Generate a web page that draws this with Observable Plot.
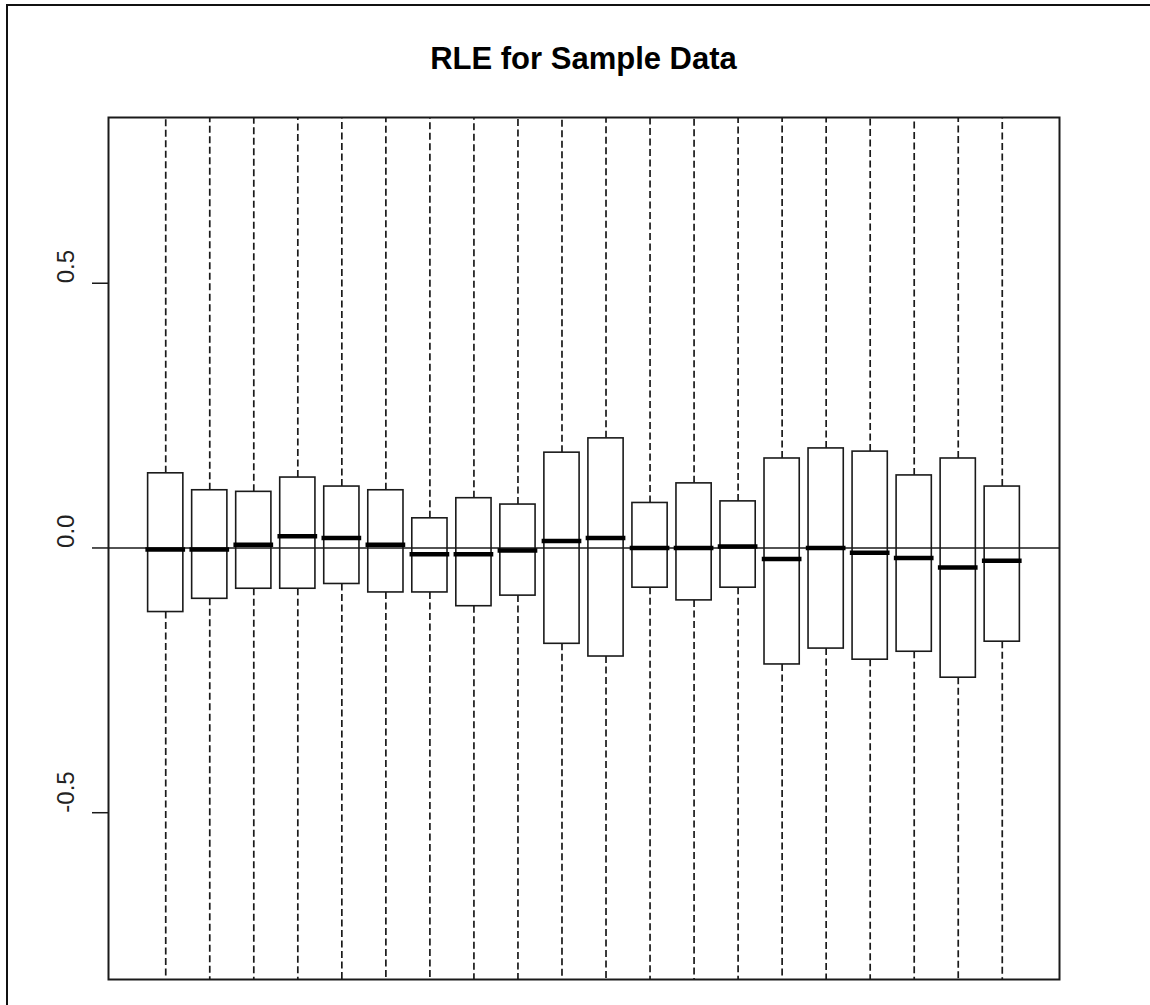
<!DOCTYPE html>
<html>
<head>
<meta charset="utf-8">
<script src="https://cdn.jsdelivr.net/npm/d3@7"></script>
<script src="https://cdn.jsdelivr.net/npm/@observablehq/plot@0.6"></script>
<style>
  html, body { margin: 0; padding: 0; background: #fff; }
  #page { position: relative; width: 1150px; height: 1005px; overflow: hidden; background: #fff; }
  #edge { position: absolute; left: 6px; top: 4px; width: 1150px; height: 1010px;
          border-left: 2px solid #111; border-top: 2px solid #111; pointer-events: none; }
  #title { box-sizing: border-box; height: 100px; padding-top: 44px; text-align: center;
           padding-left: 17px;
           font-family: "Liberation Sans", Arial, sans-serif; font-weight: bold;
           font-size: 31px; line-height: 30px; color: #000; }
  #chart svg { display: block; }
</style>
</head>
<body>
<div id="page">
  <div id="title">RLE for Sample Data</div>
  <div id="chart"></div>
  <div id="edge"></div>
</div>
<script>
// Sample positions (1..20), no sample names shown on the axis
const samplePos = [1, 2, 3, 4, 5, 6, 7, 8, 9, 10, 11, 12, 13, 14, 15, 16, 17, 18, 19, 20];
// Upper hinge (Q3) of each RLE box
const upperHinge = [0.141, 0.109, 0.106, 0.133, 0.116, 0.109, 0.056, 0.094, 0.082, 0.180,
                    0.207, 0.085, 0.122, 0.088, 0.169, 0.188, 0.182, 0.137, 0.169, 0.116];
// Lower hinge (Q1)
const lowerHinge = [-0.121, -0.096, -0.077, -0.077, -0.068, -0.084, -0.084, -0.110, -0.090, -0.181,
                    -0.205, -0.075, -0.099, -0.075, -0.220, -0.190, -0.211, -0.196, -0.245, -0.177];
// Medians
const medians = [-0.003, -0.003, 0.006, 0.022, 0.019, 0.006, -0.012, -0.012, -0.005, 0.013,
                 0.019, 0.000, 0.000, 0.003, -0.021, 0.000, -0.009, -0.019, -0.037, -0.024];
// Whisker ends run past the visible range (clipped by the plot region)
const whiskerHigh = [0.95, 0.95, 0.95, 0.95, 0.95, 0.95, 0.95, 0.95, 0.95, 0.95,
                     0.95, 0.95, 0.95, 0.95, 0.95, 0.95, 0.95, 0.95, 0.95, 0.95];
const whiskerLow = [-0.95, -0.95, -0.95, -0.95, -0.95, -0.95, -0.95, -0.95, -0.95, -0.95,
                    -0.95, -0.95, -0.95, -0.95, -0.95, -0.95, -0.95, -0.95, -0.95, -0.95];
// Y axis ticks
const yTicks = [-0.5, 0.0, 0.5];
const yTickLabels = ["-0.5", "0.0", "0.5"];

const boxes = samplePos.map((p, i) => ({
  pos: p, q3: upperHinge[i], q1: lowerHinge[i], med: medians[i],
  hi: whiskerHigh[i], lo: whiskerLow[i]
}));
const halfBox = 0.4;
const ink = "#1a1a1a";

const chart = Plot.plot({
  width: 1150,
  height: 905,
  marginTop: 17,
  marginBottom: 26,
  marginLeft: 108,
  marginRight: 91,
  x: { domain: [-0.3, 21.3], axis: null },
  y: { domain: [-0.815, 0.813], label: null },
  style: { background: "white", fontFamily: "'Liberation Sans', Arial, sans-serif", color: ink },
  marks: [
    Plot.ruleX(boxes, { x: "pos", y1: "q3", y2: "hi", stroke: ink, strokeWidth: 1.7,
                        strokeDasharray: "7,3.5", clip: true }),
    Plot.ruleX(boxes, { x: "pos", y1: "q1", y2: "lo", stroke: ink, strokeWidth: 1.7,
                        strokeDasharray: "7,3.5", clip: true }),
    Plot.rect(boxes, { x1: d => d.pos - halfBox, x2: d => d.pos + halfBox, y1: "q1", y2: "q3",
                       fill: "white", stroke: ink, strokeWidth: 1.6 }),
    Plot.ruleY([0], { stroke: ink, strokeWidth: 1.5 }),
    Plot.ruleY(boxes, { y: "med", x1: d => d.pos - halfBox, x2: d => d.pos + halfBox,
                        stroke: "#000", strokeWidth: 4.5, strokeLinecap: "square" }),
    Plot.frame({ stroke: ink, strokeWidth: 2 }),
    Plot.axisY({ ticks: yTicks, tickSize: 16, tickFormat: () => "", stroke: ink, strokeWidth: 1.5 }),
    Plot.text(yTicks, { y: d => d, text: (d, i) => yTickLabels[i], frameAnchor: "left", dx: -42,
                        rotate: -90, fontSize: 24, fill: "#222" })
  ]
});
document.getElementById("chart").appendChild(chart);
</script>
</body>
</html>
